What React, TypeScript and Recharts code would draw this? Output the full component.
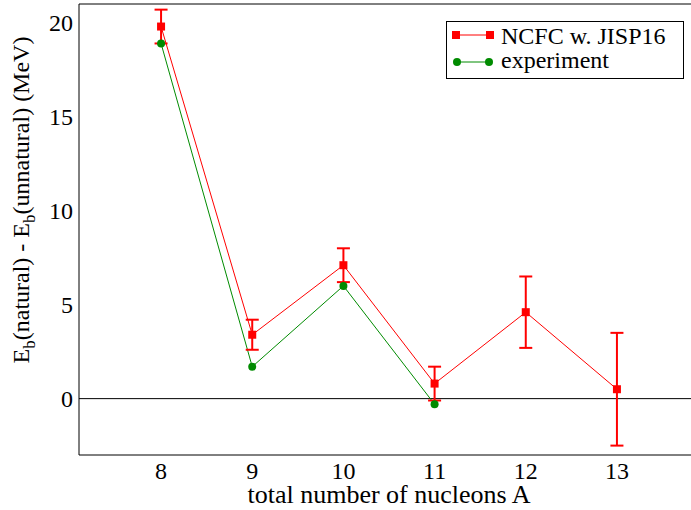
import React from 'react';
import { ComposedChart, Line, XAxis, YAxis, ErrorBar, ReferenceLine } from 'recharts';

const nucleonsA = [8, 9, 10, 11, 12, 13];
const ncfcValues = [19.8, 3.4, 7.1, 0.8, 4.6, 0.5];
const ncfcErrors = [0.9, 0.8, 0.9, 0.9, 1.9, 3.0];
const experimentA = [8, 9, 10, 11];
const experimentValues = [18.9, 1.7, 6.0, -0.3];

const xTicks = [8, 9, 10, 11, 12, 13];
const yMajorTicks = [0, 5, 10, 15, 20];
const yMinorTicks = [-2, -1, 1, 2, 3, 4, 6, 7, 8, 9, 11, 12, 13, 14, 16, 17, 18, 19];
const xDomain: [number, number] = [7.1, 13.9];
const yDomain: [number, number] = [-3, 21];

const seriesNames = ['NCFC w. JISP16', 'experiment'];
const RED = '#ff0000';
const GREEN = '#008b00';
const FONT = "'Liberation Serif', 'Tinos', 'Nimbus Roman', 'FreeSerif', 'Times'";
const CSS = `#chart-root text, #chart-root tspan, #chart-root { font-family: ${FONT} !important; }`;

const ncfcData = nucleonsA.map((a, i) => ({ a, y: ncfcValues[i], err: ncfcErrors[i] }));
const expData = experimentA.map((a, i) => ({ a, y: experimentValues[i] }));

const SquareDot = (props: any) => {
  const { cx, cy, index } = props;
  if (cx == null || cy == null) return <g key={index} />;
  return <rect key={index} x={cx - 4} y={cy - 4} width={8} height={8} fill={RED} />;
};
const CircleDot = (props: any) => {
  const { cx, cy, index } = props;
  if (cx == null || cy == null) return <g key={index} />;
  return <circle key={index} cx={cx} cy={cy} r={4} fill={GREEN} />;
};

const XTick = (props: any) => {
  const { x, y, payload } = props;
  return (
    <text x={x} y={y + 17} textAnchor="middle" style={{ fontFamily: FONT, fontSize: 24 }} fill="#000">
      {payload.value}
    </text>
  );
};
const YTick = (props: any) => {
  const { x, y, payload } = props;
  return (
    <text x={x} y={y + 8} textAnchor="end" style={{ fontFamily: FONT, fontSize: 24 }} fill="#000">
      {payload.value}
    </text>
  );
};

const YLabel = () => (
  <text
    transform="translate(29,200) rotate(-90)"
    textAnchor="middle"
    style={{ fontFamily: FONT, fontSize: 24 }}
    fill="#000"
  >
    <tspan>E</tspan>
    <tspan dy={6} style={{ fontSize: 17 }}>b</tspan>
    <tspan dy={-6}>(natural) - E</tspan>
    <tspan dy={6} style={{ fontSize: 17 }}>b</tspan>
    <tspan dy={-6}>(unnatural)  (MeV)</tspan>
  </text>
);

const XLabel = () => (
  <text x={389} y={503} textAnchor="middle" style={{ fontFamily: FONT, fontSize: 26 }} fill="#000">
    total number of nucleons A
  </text>
);

export default function App() {
  return (
    <div id="chart-root" style={{ position: 'absolute', left: 0, top: 0, width: 691, height: 510, overflow: 'hidden', background: '#fff', fontFamily: FONT }}>
      <style>{CSS}</style>
      <ComposedChart width={700} height={510} margin={{ top: 4, right: 1, bottom: 0, left: 0 }}>
        <XAxis
          xAxisId="main"
          type="number"
          dataKey="a"
          domain={xDomain}
          allowDataOverflow
          ticks={xTicks}
          height={55}
          stroke="#000"
          tickLine={false}
          tickSize={0}
          tickMargin={7}
          tick={<XTick />}
          label={<XLabel />}
        />
        <XAxis xAxisId="bm" type="number" orientation="bottom" mirror domain={xDomain} allowDataOverflow ticks={xTicks}
          stroke="#000" axisLine={false} tick={false} tickSize={11} tickLine={{ stroke: '#000' }} />
        <XAxis xAxisId="tm" type="number" orientation="top" mirror domain={xDomain} allowDataOverflow ticks={xTicks}
          stroke="#000" axisLine={{ stroke: '#000' }} tick={false} tickSize={11} tickLine={{ stroke: '#000' }} />
        <YAxis
          yAxisId="main"
          type="number"
          domain={yDomain}
          allowDataOverflow
          ticks={yMajorTicks}
          width={79}
          stroke="#000"
          tickLine={false}
          tickSize={0}
          tickMargin={6}
          tick={<YTick />}
          label={<YLabel />}
        />
        <YAxis yAxisId="lmaj" type="number" orientation="left" mirror domain={yDomain} allowDataOverflow ticks={yMajorTicks}
          stroke="#000" axisLine={false} tick={false} tickSize={11} tickLine={{ stroke: '#000' }} />
        <YAxis yAxisId="lmin" type="number" orientation="left" mirror domain={yDomain} allowDataOverflow ticks={yMinorTicks}
          stroke="#000" axisLine={false} tick={false} tickSize={6} tickLine={{ stroke: '#000' }} />
        <YAxis yAxisId="rmaj" type="number" orientation="right" mirror domain={yDomain} allowDataOverflow ticks={yMajorTicks}
          stroke="#000" axisLine={{ stroke: '#000' }} tick={false} tickSize={11} tickLine={{ stroke: '#000' }} />
        <YAxis yAxisId="rmin" type="number" orientation="right" mirror domain={yDomain} allowDataOverflow ticks={yMinorTicks}
          stroke="#000" axisLine={false} tick={false} tickSize={6} tickLine={{ stroke: '#000' }} />
        <ReferenceLine xAxisId="main" yAxisId="main" y={0} stroke="#000" strokeWidth={1} />
        <Line
          xAxisId="main"
          yAxisId="main"
          data={expData}
          dataKey="y"
          type="linear"
          stroke={GREEN}
          strokeWidth={1}
          dot={CircleDot}
          activeDot={false}
          isAnimationActive={false}
        />
        <Line
          xAxisId="main"
          yAxisId="main"
          data={ncfcData}
          dataKey="y"
          type="linear"
          stroke={RED}
          strokeWidth={1}
          dot={SquareDot}
          activeDot={false}
          isAnimationActive={false}
        >
          <ErrorBar dataKey="err" direction="y" width={6.5} stroke={RED} strokeWidth={2} />
        </Line>
      </ComposedChart>
      <div style={{ position: 'absolute', left: 446, top: 21, width: 238, height: 58, boxSizing: 'border-box', border: '1px solid #000', background: '#fff' }}>
        <svg width={236} height={56} style={{ display: 'block' }}>
          <line x1={9} y1={13} x2={43} y2={13} stroke={RED} strokeWidth={1} />
          <rect x={5} y={9} width={8} height={8} fill={RED} />
          <rect x={39} y={9} width={8} height={8} fill={RED} />
          <text x={54} y={22} style={{ fontFamily: FONT, fontSize: 24 }} fill="#000">{seriesNames[0]}</text>
          <line x1={10} y1={40} x2={42} y2={40} stroke={GREEN} strokeWidth={1} />
          <circle cx={10} cy={40} r={4} fill={GREEN} />
          <circle cx={42} cy={40} r={4} fill={GREEN} />
          <text x={54} y={46} style={{ fontFamily: FONT, fontSize: 24 }} fill="#000">{seriesNames[1]}</text>
        </svg>
      </div>
    </div>
  );
}
